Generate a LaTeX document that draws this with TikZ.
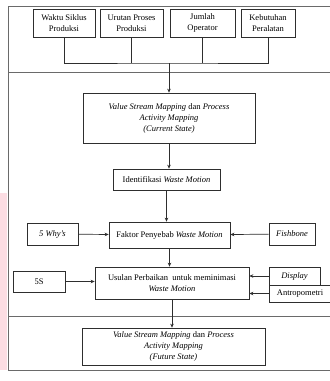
\documentclass[tikz,border=0pt]{standalone}
\usepackage{fontspec}
\setmainfont{Liberation Serif}
\usetikzlibrary{positioning,arrows.meta,calc}
\definecolor{cBox}{HTML}{2E2E2E}
\definecolor{cFrame}{HTML}{6A6A6A}
\definecolor{cPink}{HTML}{FCDDE3}
\tikzset{
  blk/.style={draw=cBox, line width=0.7pt, align=center, inner sep=1pt,
              font=\fontsize{8.5}{11}\selectfont},
  frm/.style={draw=cFrame, line width=0.8pt},
  ln/.style={cBox, line width=0.7pt},
  ar/.style={-{Stealth[length=4pt,width=3.5pt]}, cBox, line width=0.7pt},
}

\begin{document}
\begin{tikzpicture}[x=1pt,y=-1pt]
  \clip (0,0) rectangle (330,381);
  \fill[white] (0,0) rectangle (330,381);
  \fill[cPink] (0,193) rectangle (7,370);
  % frame
  \draw[frm] (340,6) -- (8,6) -- (8,370) -- (340,370);
  \draw[frm] (8,72) -- (340,72);
  \draw[frm] (8,316) -- (340,316);
  % input
  \node[blk, minimum width=62pt, minimum height=28pt] (wsp) at (64,23) {Waktu Siklus\\Produksi};
  \node[blk, minimum width=63pt, minimum height=28pt] (upp) at (131.5,23) {Urutan Proses\\Produksi};
  \node[blk, minimum width=65pt, minimum height=28pt] (jop) at (202.5,23) {Jumlah\\Operator};
  \node[blk, minimum width=54pt, minimum height=28pt] (kpr) at (268,23) {Kebutuhan\\Peralatan};
  \coordinate (bus) at (169,63);
  % mapping
  \node[blk, minimum width=172pt, minimum height=50pt] (vsmc) at (169,118)
    {\textit{Value Stream Mapping} dan \textit{Process}\\ \textit{Activity Mapping}\\ \textit{(Current State)}};
  \node[blk, minimum width=107pt, minimum height=21pt] (idw) at (166.5,179.5) {Identifikasi \textit{Waste Motion}};
  \node[blk, minimum width=121pt, minimum height=26pt] (fpw) at (169.5,235) {Faktor Penyebab \textit{Waste Motion}};
  \node[blk, minimum width=51pt, minimum height=22pt] (why) at (52.5,234) {\textit{5 Why’s}};
  \node[blk, minimum width=46pt, minimum height=22pt] (fsh) at (292,234) {\textit{Fishbone}};
  \node[blk, minimum width=154pt, minimum height=32pt] (upw) at (172,283) {Usulan Perbaikan\ \ untuk meminimasi\\ \textit{Waste Motion}};
  \node[blk, minimum width=52pt, minimum height=21pt] (fives) at (39,281.5) {5S};
  \node[blk, minimum width=51pt, minimum height=18pt] (dsp) at (294.5,276) {\textit{Display}};
  \node[blk, minimum width=62pt, minimum height=17pt] (atr) at (300,293.5) {Antropometri};
  % result
  \node[blk, minimum width=183pt, minimum height=37pt] (vsmf) at (173.5,346.5)
    {\textit{Value Stream Mapping} dan \textit{Process}\\ \textit{Activity Mapping}\\ \textit{(Future State)}};
  % connectors
  \draw[ln] (wsp.south) |- (bus) -| (kpr.south);
  \draw[ln] (upp.south) -- (upp.south |- bus);
  \draw[ln] (jop.south) -- (jop.south |- bus);
  \draw[ar] (bus) -- (bus |- vsmc.north);
  \draw[ar] (vsmc.south) -- (vsmc.south |- idw.north);
  \draw[ar] (idw.south) -- (idw.south |- fpw.north);
  \draw[ar] (why) -- (fpw);
  \draw[ar] (fsh) -- (fpw);
  \draw[ar] (fpw.south) -- (fpw.south |- upw.north);
  \draw[ar] (fives) -- (fives -| upw.west);
  \draw[ar] (dsp.west) -- (dsp.west -| upw.east);
  \draw[ar] (atr.west) -- (atr.west -| upw.east);
  \draw[ar] (upw.south) -- (upw.south |- vsmf.north);
\end{tikzpicture}
\end{document}
